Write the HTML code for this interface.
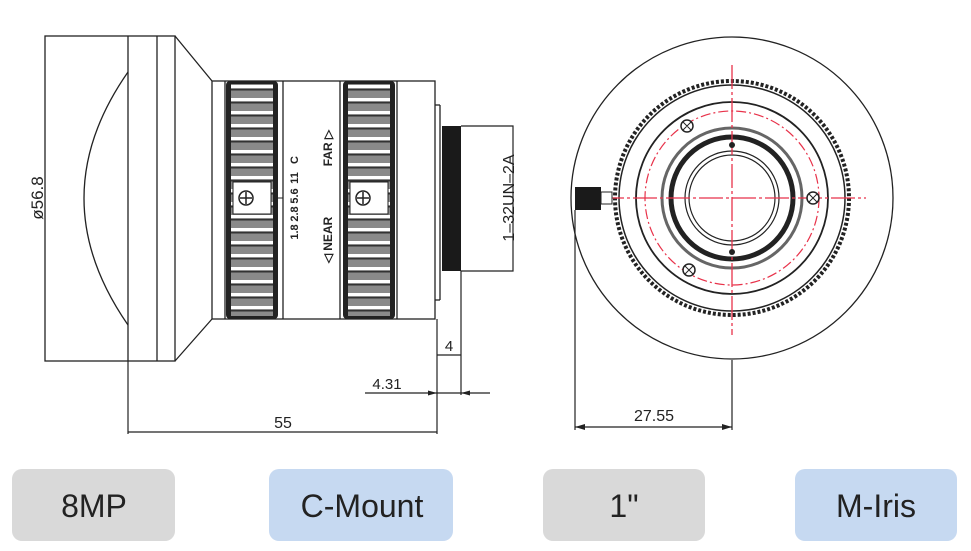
<!DOCTYPE html>
<html><head><meta charset="utf-8"><style>
html,body{margin:0;padding:0;background:#fff;width:971px;height:551px;overflow:hidden}
svg{display:block}
.t{font-family:"Liberation Sans",sans-serif;fill:#222}
</style></head><body>
<svg width="971" height="551" viewBox="0 0 971 551" xmlns="http://www.w3.org/2000/svg">
<defs>
<pattern id="kn" x="0" y="81" width="10" height="13" patternUnits="userSpaceOnUse">
<rect width="10" height="13" fill="#8a8a8a"/><rect y="4" width="10" height="3" fill="#fff"/><rect y="8" width="10" height="1.5" fill="#333"/>
</pattern>
</defs>
<g fill="none" stroke="#222" stroke-width="1.3">
<rect x="45" y="36" width="130" height="325"/>
<line x1="128" y1="36" x2="128" y2="361"/>
<line x1="157" y1="36" x2="157" y2="361"/>
<path d="M175 36 L212 81 M175 361 L212 319"/>
<path d="M128 72 Q40 198 128 325"/>
<rect x="212" y="81" width="223" height="238"/>
<line x1="225" y1="81" x2="225" y2="319"/>
<line x1="283" y1="81" x2="283" y2="319"/>
<line x1="340" y1="81" x2="340" y2="319"/>
<line x1="397" y1="81" x2="397" y2="319"/>
<line x1="435" y1="105" x2="440" y2="105"/>
<line x1="440" y1="105" x2="440" y2="300"/>
<line x1="435" y1="300" x2="440" y2="300"/>
</g>
<rect x="226" y="81" width="52" height="238" rx="4" fill="#222"/>
<rect x="231" y="84" width="42" height="232" fill="url(#kn)"/>
<rect x="233" y="182" width="38" height="32" fill="#fff" stroke="#222"/>
<circle cx="246" cy="198" r="7" fill="none" stroke="#222" stroke-width="1.5"/>
<path d="M240 198h12M246 192v12" stroke="#222" stroke-width="1.5"/>
<line x1="278" y1="198" x2="283" y2="198" stroke="#222"/>
<rect x="343" y="81" width="52" height="238" rx="4" fill="#222"/>
<rect x="348" y="84" width="42" height="232" fill="url(#kn)"/>
<rect x="350" y="182" width="38" height="32" fill="#fff" stroke="#222"/>
<circle cx="363" cy="198" r="7" fill="none" stroke="#222" stroke-width="1.5"/>
<path d="M357 198h12M363 192v12" stroke="#222" stroke-width="1.5"/>
<g class="t" font-size="11" font-weight="bold" text-anchor="middle">
<text transform="translate(298,232) rotate(-90)">1.8</text>
<text transform="translate(298,214) rotate(-90)">2.8</text>
<text transform="translate(298,196) rotate(-90)">5.6</text>
<text transform="translate(298,178) rotate(-90)">11</text>
<text transform="translate(298,160) rotate(-90)">C</text>
</g>
<g class="t" font-size="12" font-weight="bold" text-anchor="middle">
<text transform="translate(332,240) rotate(-90)">◁ NEAR</text>
<text transform="translate(332,148) rotate(-90)">FAR ▷</text>
</g>
<rect x="442" y="126" width="19" height="145" fill="#1a1a1a"/>
<g fill="none" stroke="#222" stroke-width="1.2">
<path d="M461 126 H513 V271 H461"/>
<line x1="128" y1="361" x2="128" y2="434"/>
<line x1="437" y1="319" x2="437" y2="434"/>
<line x1="128" y1="432" x2="437" y2="432"/>
<line x1="461" y1="271" x2="461" y2="395"/>
<line x1="437" y1="355" x2="461" y2="355"/>
<line x1="365" y1="393" x2="490" y2="393"/>
</g>
<path d="M437 393 l-9 -2.5 v5z M461 393 l9 -2.5 v5z" fill="#222"/>
<text class="t" font-size="16" x="283" y="428" text-anchor="middle">55</text>
<text class="t" font-size="15" x="449" y="351" text-anchor="middle">4</text>
<text class="t" font-size="15" x="387" y="389" text-anchor="middle">4.31</text>
<text class="t" font-size="17" transform="translate(43,198) rotate(-90)" text-anchor="middle">ø56.8</text>
<text class="t" font-size="16" transform="translate(514,198) rotate(-90)" text-anchor="middle">1–32UN–2A</text>
<g fill="none" stroke="#222">
<circle cx="732" cy="198" r="161" stroke-width="1.3"/>
<circle cx="732" cy="198" r="117" stroke-width="4" stroke-dasharray="3 2"/>
<circle cx="732" cy="198" r="113" stroke-width="1.5"/>
<circle cx="732" cy="198" r="96" stroke-width="1.8"/>
<circle cx="732" cy="198" r="70" stroke="#666" stroke-width="3"/>
<circle cx="732" cy="198" r="61" stroke-width="5"/>
<circle cx="732" cy="198" r="47" stroke-width="1.2"/>
<circle cx="732" cy="198" r="43" stroke-width="1.2"/>
</g>
<circle cx="732" cy="198" r="87" fill="none" stroke="#e8324a" stroke-width="1.2" stroke-dasharray="10 3 2 3"/>
<path d="M600 198 H866 M732 65 V335" stroke="#e8324a" stroke-width="1.3" stroke-dasharray="24 3 3 3"/>
<circle cx="732" cy="145" r="3" fill="#222"/><circle cx="732" cy="252" r="3" fill="#222"/>
<g fill="#fff" stroke="#222" stroke-width="1.5">
<circle cx="687" cy="126" r="6"/><circle cx="813" cy="198" r="6"/><circle cx="689" cy="270" r="6"/>
</g>
<path d="M683 122l8 8M691 122l-8 8M809 194l8 8M817 194l-8 8M685 266l8 8M693 266l-8 8" stroke="#222" stroke-width="1"/>
<rect x="575" y="187" width="26" height="23" fill="#1a1a1a"/>
<rect x="601" y="192" width="11" height="12" fill="#fff" stroke="#222"/>
<g stroke="#222" stroke-width="1.2">
<line x1="575" y1="210" x2="575" y2="430"/>
<line x1="732" y1="360" x2="732" y2="430"/>
<line x1="575" y1="427" x2="732" y2="427"/>
</g>
<path d="M575 427 l10 -3 v6z M732 427 l-10 -3 v6z" fill="#222"/>
<text class="t" font-size="16" x="654" y="421" text-anchor="middle">27.55</text>
<rect x="12" y="469" width="163" height="72" rx="10" fill="#d9d9d9"/>
<rect x="269" y="469" width="184" height="72" rx="10" fill="#c6d9f1"/>
<rect x="543" y="469" width="162" height="72" rx="10" fill="#d9d9d9"/>
<rect x="795" y="469" width="162" height="72" rx="10" fill="#c6d9f1"/>
<g class="t" font-size="32" text-anchor="middle">
<text x="94" y="517">8MP</text>
<text x="362" y="517">C-Mount</text>
<text x="624" y="517">1"</text>
<text x="876" y="517">M-Iris</text>
</g>
</svg>
</body></html>
